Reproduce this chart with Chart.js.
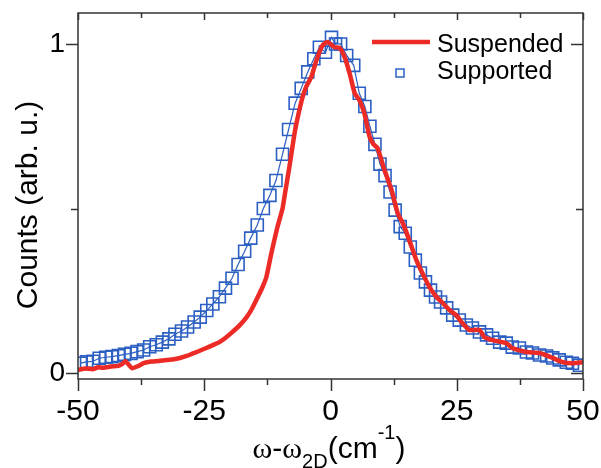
<!DOCTYPE html>
<html>
<head>
<meta charset="utf-8">
<script src="https://cdn.jsdelivr.net/npm/chart.js@4/dist/chart.umd.min.js"></script>
<style>
html,body{margin:0;padding:0;background:#fff;}
#wrap{width:601px;height:468px;}
</style>
</head>
<body>
<div id="wrap"><canvas id="c" width="601" height="468"></canvas></div>
<script>
// ---- data ----
const suspendedX = [-50,-48.5,-47,-46,-45,-43.5,-42,-41.2,-40.6,-39.3,-38,-37,-35.5,-34,-32.5,-31,-30,-28.5,-27.2,-26,-24.6,-23.3,-22,-20.7,-19.4,-18,-16.6,-15.5,-14.4,-13.5,-12.7,-11.7,-10.5,-9.5,-9.0,-8.1,-7.1,-6.3,-5.5,-4.8,-3.8,-2.8,-1.6,-0.6,0.8,1.8,2.8,3.8,4.8,5.7,6.7,7.7,8.5,9.3,10.7,12.1,13.3,14.3,15.6,17,18.2,19.6,21,22.2,23.6,24.9,26.1,27.5,29.5,30.5,32.1,34.8,36,38.8,41.4,44,46,47.9,50];
const suspendedY = [0.01,0.014,0.012,0.018,0.016,0.02,0.022,0.028,0.036,0.015,0.022,0.03,0.035,0.037,0.04,0.042,0.045,0.052,0.06,0.067,0.076,0.085,0.094,0.108,0.125,0.145,0.17,0.197,0.231,0.26,0.292,0.365,0.444,0.5,0.547,0.63,0.73,0.79,0.84,0.87,0.9,0.95,0.995,1.006,0.99,0.988,0.96,0.91,0.85,0.83,0.79,0.72,0.695,0.684,0.617,0.556,0.486,0.456,0.404,0.343,0.304,0.261,0.231,0.213,0.191,0.176,0.152,0.131,0.131,0.109,0.1,0.091,0.076,0.064,0.061,0.046,0.033,0.03,0.033];

const supportedX = [-49.5,-48.3,-47,-45.8,-44.5,-43.3,-42,-40.8,-39.5,-38.3,-37,-35.8,-34.5,-33.3,-32,-30.8,-29.5,-28.3,-27,-25.8,-24.5,-23.3,-22,-20.8,-19.5,-18.3,-17,-15.8,-14.5,-13.3,-12,-10.8,-9.5,-8.3,-7,-5.8,-4.5,-3.3,-2.2,-1,0.2,1,2,3.2,4.6,5.7,6.8,7.8,8.8,9.8,10.8,11.8,12.8,13.8,14.8,15.8,16.8,17.8,18.8,19.8,20.8,21.8,23,24.2,25.5,26.9,28.1,29.5,30.9,32.1,33.5,34.8,36,37.4,38.8,40,41.4,42.8,44,45.3,46.7,47.9,49.3];
const supportedY = [0.03,0.034,0.036,0.045,0.048,0.05,0.053,0.057,0.06,0.065,0.07,0.08,0.086,0.094,0.104,0.118,0.128,0.14,0.155,0.17,0.19,0.21,0.232,0.258,0.288,0.33,0.37,0.41,0.45,0.5,0.54,0.585,0.665,0.74,0.82,0.865,0.915,0.955,0.99,0.975,1.02,1.0,1.0,0.965,0.935,0.85,0.81,0.75,0.695,0.635,0.6,0.55,0.495,0.445,0.425,0.383,0.343,0.304,0.277,0.252,0.231,0.216,0.198,0.176,0.161,0.146,0.137,0.125,0.116,0.106,0.094,0.091,0.079,0.076,0.064,0.061,0.055,0.052,0.046,0.04,0.033,0.03,0.024];

const xTickLabels = [-50,-25,0,25,50];
const xMinorTicks = [-37.5,-12.5,12.5,37.5];
const yTickLabels = [0,1];
const yMinorTicks = [0.5];
const seriesNames = ['Suspended','Supported'];

// ---- styles ----
const RED = '#ec2a26';
const BLUE = '#2c5fc2';
const AXIS = '#333333';

function pts(xs, ys){ return xs.map((x,i)=>({x:x, y:ys[i]})); }

const framePlugin = {
  id:'frame',
  afterDatasetsDraw(chart){
    const ctx = chart.ctx, a = chart.chartArea, xs = chart.scales.x, ys = chart.scales.y;
    ctx.save();
    ctx.strokeStyle = AXIS; ctx.lineWidth = 1.5;
    ctx.strokeRect(a.left, a.top, a.right-a.left, a.bottom-a.top);
    ctx.beginPath();
    xTickLabels.forEach(v=>{ const p = Math.round(xs.getPixelForValue(v))+0.5;
      ctx.moveTo(p, a.bottom); ctx.lineTo(p, a.bottom+12);
      ctx.moveTo(p, a.top); ctx.lineTo(p, a.top+7); });
    xMinorTicks.forEach(v=>{ const p = Math.round(xs.getPixelForValue(v))+0.5;
      ctx.moveTo(p, a.bottom); ctx.lineTo(p, a.bottom+6);
      ctx.moveTo(p, a.top); ctx.lineTo(p, a.top+5); });
    yTickLabels.forEach(v=>{ const p = Math.round(ys.getPixelForValue(v))+0.5;
      ctx.moveTo(a.left-12, p); ctx.lineTo(a.left, p);
      ctx.moveTo(a.right-12, p); ctx.lineTo(a.right, p); });
    yMinorTicks.forEach(v=>{ const p = Math.round(ys.getPixelForValue(v))+0.5;
      ctx.moveTo(a.left-7, p); ctx.lineTo(a.left, p);
      ctx.moveTo(a.right-7, p); ctx.lineTo(a.right, p); });
    ctx.stroke();

    // legend
    ctx.strokeStyle = RED; ctx.lineWidth = 4.5; ctx.lineCap = 'butt';
    ctx.beginPath(); ctx.moveTo(372, 42); ctx.lineTo(430, 42); ctx.stroke();
    ctx.strokeStyle = BLUE; ctx.lineWidth = 1.5;
    ctx.strokeRect(396, 69, 8, 8);
    ctx.fillStyle = '#000';
    ctx.font = '25px "Liberation Sans", Arial, sans-serif';
    ctx.textAlign = 'left'; ctx.textBaseline = 'alphabetic';
    ctx.fillText(seriesNames[0], 437, 52);
    ctx.fillText(seriesNames[1], 437, 79);

    // y title
    ctx.save();
    ctx.translate(37, 205); ctx.rotate(-Math.PI/2);
    ctx.font = '30px "Liberation Sans", Arial, sans-serif';
    ctx.textAlign = 'center';
    ctx.fillText('Counts (arb. u.)', 0, 0);
    ctx.restore();

    // x title with sub/superscripts
    const parts = [
      {t:'\u03c9', f:'30px "Liberation Serif", serif', dy:0},
      {t:'-', f:'30px "Liberation Sans", Arial, sans-serif', dy:0},
      {t:'\u03c9', f:'30px "Liberation Serif", serif', dy:0},
      {t:'2D', f:'20px "Liberation Sans", Arial, sans-serif', dy:10},
      {t:'(cm', f:'30px "Liberation Sans", Arial, sans-serif', dy:0},
      {t:'-1', f:'20px "Liberation Sans", Arial, sans-serif', dy:-19},
      {t:')', f:'30px "Liberation Sans", Arial, sans-serif', dy:0}
    ];
    let total = 0;
    parts.forEach(p=>{ ctx.font = p.f; p.w = ctx.measureText(p.t).width; total += p.w; });
    let cx = 329 - total/2;
    const base = 458;
    parts.forEach(p=>{ ctx.font = p.f; ctx.fillText(p.t, cx, base + p.dy); cx += p.w; });
    ctx.restore();
  }
};

function noPad(s){ s.paddingLeft = 0; s.paddingRight = 0; s.paddingTop = 0; s.paddingBottom = 0; }

new Chart(document.getElementById('c'), {
  type:'scatter',
  data:{
    datasets:[
      { label:seriesNames[0], data:pts(suspendedX, suspendedY), showLine:true,
        borderColor:RED, borderWidth:4.5, pointRadius:0, tension:0.2, fill:false },
      { label:seriesNames[1], data:pts(supportedX, supportedY), showLine:true,
        borderColor:BLUE, borderWidth:1.2, pointStyle:'rect', pointRadius:8.5,
        pointBorderColor:BLUE, pointBorderWidth:1.6, pointBackgroundColor:'rgba(0,0,0,0)',
        tension:0, fill:false }
    ]
  },
  options:{
    responsive:false, animation:false, devicePixelRatio:1,
    layout:{ padding:{ top:13, right:18, left:0, bottom:0 } },
    plugins:{ legend:{display:false}, tooltip:{enabled:false} },
    scales:{
      x:{ type:'linear', min:-50, max:50,
        afterBuildTicks(s){ s.ticks = xTickLabels.map(v=>({value:v})); },
        afterFit(s){ s.height = 89; noPad(s); },
        grid:{ display:false, drawTicks:false }, border:{display:false},
        ticks:{ color:'#000', padding:15, maxRotation:0, autoSkip:false,
          font:{ family:'"Liberation Sans", Arial, sans-serif', size:30 } } },
      y:{ type:'linear', min:-0.018, max:1.094,
        afterBuildTicks(s){ s.ticks = yTickLabels.map(v=>({value:v})); },
        afterFit(s){ s.width = 78; noPad(s); },
        grid:{ display:false, drawTicks:false }, border:{display:false},
        ticks:{ color:'#000', padding:13, autoSkip:false,
          font:{ family:'"Liberation Sans", Arial, sans-serif', size:28 } } }
    }
  },
  plugins:[framePlugin]
});
</script>
</body>
</html>
